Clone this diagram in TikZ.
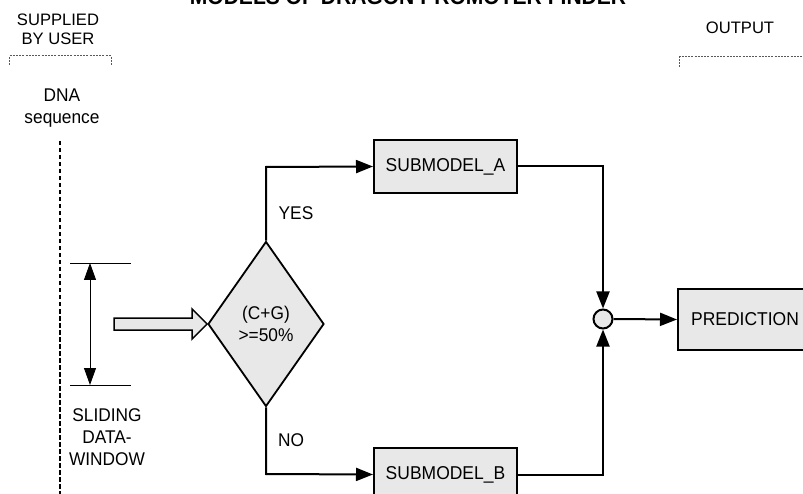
\documentclass[tikz,border=0pt]{standalone}
\usepackage{fontspec}
\setmainfont{Liberation Sans}[FakeStretch=0.94]
\newfontfamily\hdrfont{Liberation Sans}
\usetikzlibrary{shapes.geometric,arrows.meta,calc}
\definecolor{boxgray}{HTML}{E8E8E8}
\tikzset{
  lbl/.style={font=\fontsize{18.4}{22}\selectfont, inner sep=0pt, align=center},
  hdr/.style={font=\hdrfont\fontsize{16.6}{18.5}\selectfont, inner sep=0pt, align=center},
  modbox/.style={draw, line width=2pt, fill=boxgray, minimum width=143pt, minimum height=53pt, inner sep=0pt, font=\fontsize{18.6}{22}\selectfont},
  conn/.style={line width=2pt},
  arr/.style={conn, -{Triangle[length=17pt,width=13pt]}},
  thinl/.style={line width=0.9pt},
  bracket/.style={line width=1pt, dash pattern=on 2pt off 1.2pt, gray!70!black},
}
\begin{document}
\begin{tikzpicture}[x=1pt,y=-1pt]
\useasboundingbox (0,0) rectangle (803,494);
% title (cut off at top, as in the reference)
\node[anchor=base, inner sep=0pt, font=\fontsize{22.4}{26}\selectfont\bfseries] (title) at (408,5) {MODELS OF DRAGON PROMOTER FINDER};
% header labels
\node[hdr] (supplied) at (58,29.5) {SUPPLIED\\BY USER};
\node[hdr] (output) at (740,28) {OUTPUT};
% brackets
\coordinate (bl1) at (9,65); \coordinate (bl2) at (9,56); \coordinate (bl3) at (111,56); \coordinate (bl4) at (111,65);
\draw[bracket] (bl1) -- (bl2) -- (bl3) -- (bl4);
\coordinate (br1) at (679,67); \coordinate (br2) at (679,57); \coordinate (br3) at (803,57);
\draw[bracket] (br1) -- (br2) -- (br3);
% DNA sequence
\node[lbl] (dna) at (62,108) {DNA\\sequence};
\coordinate (dtop) at (60,141); \coordinate (dbot) at (60,496);
\draw[line width=2.4pt, dash pattern=on 4.5pt off 2.5pt] (dtop) -- (dbot);
% sliding window
\coordinate (wt1) at (70,263); \coordinate (wt2) at (131,263);
\coordinate (wb1) at (70,385); \coordinate (wb2) at (131,385);
\coordinate (wat) at (90,263); \coordinate (wab) at (90,385);
\draw[thinl] (wt1) -- (wt2);
\draw[thinl] (wb1) -- (wb2);
\draw[thinl, {Triangle[length=17pt,width=12pt]}-{Triangle[length=17pt,width=12pt]}] (wat) -- (wab);
\node[lbl] (sliding) at (107,437) {SLIDING\\DATA-\\WINDOW};
% decision
\node[diamond, draw, line width=1.8pt, fill=boxgray, minimum width=116pt, minimum height=165pt, inner sep=0pt, font=\fontsize{18.4}{22}\selectfont, align=center] (dia) at (266,324) {(C+G)\\>=50\%};
% hollow arrow
\draw[line width=1.5pt, fill=boxgray, line join=miter]
  ($(dia.west)+(-93,-6)$) -- ($(dia.west)+(-15,-6)$) -- ($(dia.west)+(-15,-15)$) -- (dia.west)
  -- ($(dia.west)+(-15,15)$) -- ($(dia.west)+(-15,6)$) -- ($(dia.west)+(-93,6)$) -- cycle;
% submodels
\node[modbox] (subA) at (445.5,166.5) {SUBMODEL\_A};
\node[modbox] (subB) at (445.5,474.5) {SUBMODEL\_B};
\node[lbl] (yes) at (296,213) {YES};
\node[lbl] (no) at (291,440) {NO};
\coordinate (cA) at (266,167);
\coordinate (cB) at (266,474);
\draw[arr] (dia.north) -- (cA) -- (subA.west);
\draw[arr] (dia.south) -- (cB) -- (subB.west);
% junction
\node[circle, draw, line width=2pt, fill=boxgray, minimum size=19pt, inner sep=0pt] (junc) at (603,319) {};
\draw[arr] (subA.east) -| (junc.north);
\draw[arr] (subB.east) -| (junc.south);
% prediction
\node[modbox, minimum width=134pt, minimum height=61pt] (pred) at (745,319.5) {PREDICTION};
\draw[arr] (junc.east) -- (pred.west);
\end{tikzpicture}
\end{document}
